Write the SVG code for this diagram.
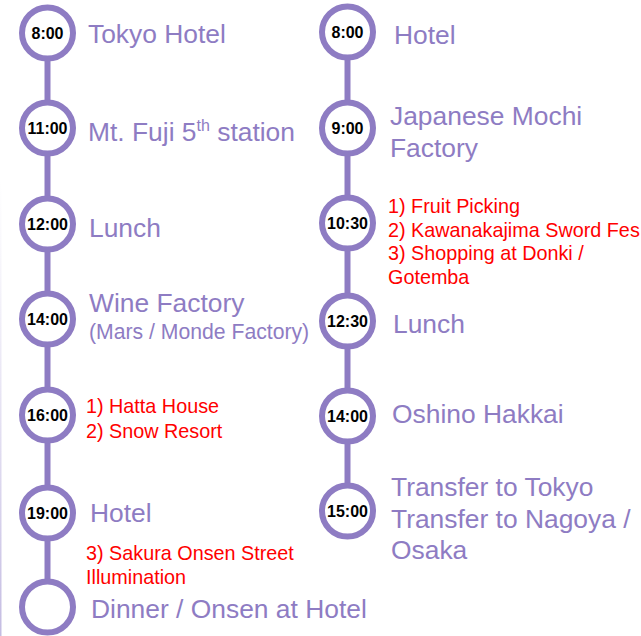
<svg xmlns="http://www.w3.org/2000/svg" width="641" height="636" viewBox="0 0 641 636">
<style>
.c{fill:#fff;stroke:#8e7cc3;stroke-width:6}
.t{font-family:"Liberation Sans",Arial,sans-serif;font-weight:bold;font-size:16px;fill:#000;text-anchor:middle}
.p{font-family:"Liberation Sans",Arial,sans-serif;font-size:26.4px;fill:#8e7cc3}
.s{font-family:"Liberation Sans",Arial,sans-serif;font-size:21.2px;fill:#8e7cc3}
.r{font-family:"Liberation Sans",Arial,sans-serif;font-size:19.8px;fill:#ff0000}
.k{stroke:#8e7cc3;stroke-width:6;fill:none}
</style>
<defs>
<linearGradient id="edge" x1="0" y1="0" x2="0" y2="1">
<stop offset="0" stop-color="#d6d0ec" stop-opacity="0"/>
<stop offset="1" stop-color="#c4bce2" stop-opacity="1"/>
</linearGradient>
</defs>
<rect width="641" height="636" fill="#fff"/>
<rect x="0" y="180" width="1.5" height="456" fill="url(#edge)"/>
<g id="connectors">
<line class="k" x1="47.5" y1="33" x2="47.5" y2="128"/>
<line class="k" x1="47.5" y1="128" x2="47.5" y2="224"/>
<line class="k" x1="47.5" y1="224" x2="47.5" y2="319"/>
<line class="k" x1="47.5" y1="319" x2="47.5" y2="415"/>
<line class="k" x1="47.5" y1="415" x2="47.5" y2="513"/>
<line class="k" x1="47.5" y1="513" x2="47.5" y2="607"/>
<line class="k" x1="347.5" y1="32" x2="347.5" y2="128"/>
<line class="k" x1="347.5" y1="128" x2="347.5" y2="223"/>
<line class="k" x1="347.5" y1="223" x2="347.5" y2="321"/>
<line class="k" x1="347.5" y1="321" x2="347.5" y2="416"/>
<line class="k" x1="347.5" y1="416" x2="347.5" y2="511"/>
</g>
<g id="l800"><circle class="c" cx="47.5" cy="33" r="25.5"/><text class="t" x="47.5" y="38.5">8:00</text><text class="p" x="88" y="43">Tokyo Hotel</text></g>
<g id="l1100"><circle class="c" cx="47.5" cy="128" r="25.5"/><text class="t" x="47.5" y="133.5">11:00</text><text class="p" x="88" y="141">Mt. Fuji 5<tspan font-size="16" dy="-10">th</tspan><tspan dy="10"> station</tspan></text></g>
<g id="l1200"><circle class="c" cx="47.5" cy="224" r="25.5"/><text class="t" x="47.5" y="229.5">12:00</text><text class="p" x="89" y="237">Lunch</text></g>
<g id="l1400"><circle class="c" cx="47.5" cy="319" r="25.5"/><text class="t" x="47.5" y="324.5">14:00</text><text class="p" x="89" y="312">Wine Factory</text><text class="s" x="89" y="339">(Mars / Monde Factory)</text></g>
<g id="l1600"><circle class="c" cx="47.5" cy="415" r="25.5"/><text class="t" x="47.5" y="420.5">16:00</text><text class="r" x="86" y="413">1) Hatta House</text><text class="r" x="86" y="438">2) Snow Resort</text></g>
<g id="l1900"><circle class="c" cx="47.5" cy="513" r="25.5"/><text class="t" x="47.5" y="518.5">19:00</text><text class="p" x="90" y="522">Hotel</text><text class="r" x="86" y="560">3) Sakura Onsen Street</text><text class="r" x="86" y="584">Illumination</text></g>
<g id="lend"><circle class="c" cx="47.5" cy="607" r="25.5"/><text class="p" x="91" y="618">Dinner / Onsen at Hotel</text></g>
<g id="r800"><circle class="c" cx="347.5" cy="32" r="25.5"/><text class="t" x="347.5" y="37.5">8:00</text><text class="p" x="394" y="44">Hotel</text></g>
<g id="r900"><circle class="c" cx="347.5" cy="128" r="25.5"/><text class="t" x="347.5" y="133.5">9:00</text><text class="p" x="390" y="125">Japanese Mochi</text><text class="p" x="390" y="157">Factory</text></g>
<g id="r1030"><circle class="c" cx="347.5" cy="223" r="25.5"/><text class="t" x="347.5" y="228.5">10:30</text><text class="r" x="388" y="213">1) Fruit Picking</text><text class="r" x="388" y="237">2) Kawanakajima Sword Fes</text><text class="r" x="388" y="260">3) Shopping at Donki /</text><text class="r" x="388" y="284">Gotemba</text></g>
<g id="r1230"><circle class="c" cx="347.5" cy="321" r="25.5"/><text class="t" x="347.5" y="326.5">12:30</text><text class="p" x="393" y="333">Lunch</text></g>
<g id="r1400"><circle class="c" cx="347.5" cy="416" r="25.5"/><text class="t" x="347.5" y="421.5">14:00</text><text class="p" x="392" y="423">Oshino Hakkai</text></g>
<g id="r1500"><circle class="c" cx="347.5" cy="511" r="25.5"/><text class="t" x="347.5" y="516.5">15:00</text><text class="p" x="391" y="496">Transfer to Tokyo</text><text class="p" x="391" y="528">Transfer to Nagoya /</text><text class="p" x="391" y="559">Osaka</text></g>
</svg>
